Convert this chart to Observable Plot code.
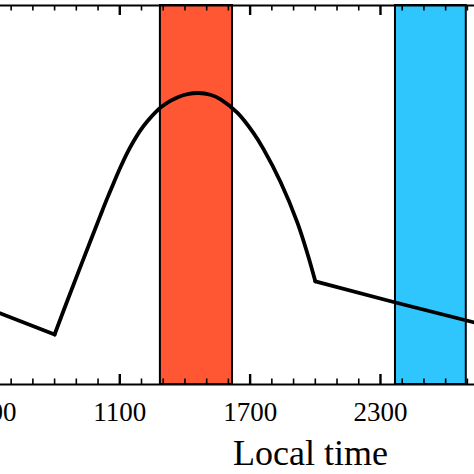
<!DOCTYPE html>
<html><head><meta charset="utf-8">
<script src="https://cdn.jsdelivr.net/npm/d3@7"></script>
<script src="https://cdn.jsdelivr.net/npm/@observablehq/plot@0.6"></script>
<style>
html,body{margin:0;padding:0;background:#fff;}
#wrap{position:relative;width:474px;height:474px;overflow:hidden;background:#fff;}
#wrap svg{position:absolute;left:-60px;top:0;max-width:none !important;width:594px;height:474px;}
</style></head><body><div id="wrap"></div>
<script>
// Local time (HHMM-like numeric axis) and curve values (arbitrary units, y axis not shown)
const times  = [400, 551, 800, 859, 933, 1011, 1043, 1071, 1103, 1135, 1163, 1195, 1228, 1264, 1297, 1333, 1370, 1412, 1462, 1517, 1564, 1642, 1715, 1761, 1840, 1918, 1964, 2000, 2369, 2733, 2800];
const values = [8.4, 7.1, 5.0, 8.4, 12.56, 16.91, 18.66, 20.11, 21.72, 23.19, 24.3, 25.42, 26.35, 27.22, 27.84, 28.36, 28.76, 29.04, 29.15, 28.97, 28.52, 27.16, 25.16, 23.56, 20.25, 16.17, 13.07, 10.32, 8.2, 6.2, 5.8];
const kinkTimes = [800, 2000];

const bandStart  = [1287, 2369];
const bandEnd    = [1619, 2695];
const bandColors = ["#ff5733", "#2ec6fd"];

const majorTicks = [500, 1100, 1700, 2300];
const majorLabels = ["0500", "1100", "1700", "2300"];
const xLabel = "Local time";

const minorTicks = d3.range(400, 2801, 100).filter(t => !majorTicks.includes(t));

const data = times.map((t, i) => ({t, v: values[i]}));
const bands = bandStart.map((s, i) => ({s, e: bandEnd[i], c: bandColors[i]}));

const W = 594, H = 474;
const mL = 27.2, mR = 45.4, mT = 5, mB = 90;
const fh = H - mT - mB;
const font = "'Liberation Serif', 'Times New Roman', serif";

const lineOpts = {x: "t", y: "v", stroke: "black", strokeWidth: 3.8, strokeLinecap: "round", strokeLinejoin: "round"};

const chart = Plot.plot({
  width: W, height: H,
  marginLeft: mL, marginRight: mR, marginTop: mT, marginBottom: mB,
  style: {fontFamily: font, background: "white", color: "black", maxWidth: "none"},
  x: {domain: [400, 2800]},
  y: {domain: [0, 37.9], axis: null},
  marks: [
    Plot.rect(bands, {x1: "s", x2: "e", fill: "c", stroke: "black", strokeWidth: 2}),
    Plot.line(data.filter(d => d.t <= kinkTimes[0]), lineOpts),
    Plot.line(data.filter(d => d.t >= kinkTimes[0] && d.t <= kinkTimes[1]), {...lineOpts, curve: "catmull-rom"}),
    Plot.line(data.filter(d => d.t >= kinkTimes[1]), lineOpts),
    // inward ticks, bottom and top
    Plot.ruleX(minorTicks, {stroke: "black", strokeWidth: 1.6, insetTop: fh - 5.5}),
    Plot.ruleX(minorTicks, {stroke: "black", strokeWidth: 1.6, insetBottom: fh - 5.5}),
    Plot.ruleX(majorTicks, {stroke: "black", strokeWidth: 2.4, insetTop: fh - 10}),
    Plot.ruleX(majorTicks, {stroke: "black", strokeWidth: 2.4, insetBottom: fh - 10}),
    Plot.frame({stroke: "black", strokeWidth: 2}),
    Plot.axisX({ticks: majorTicks, tickSize: 0, tickPadding: 17, fontSize: 27, fill: "black",
      tickFormat: d => majorLabels[majorTicks.indexOf(d)], label: null}),
    Plot.text([xLabel], {frameAnchor: "bottom", dx: 82, dy: 80, lineAnchor: "bottom",
      fontSize: 36, textAnchor: "middle", fill: "black"})
  ]
});
document.getElementById("wrap").appendChild(chart);
</script></body></html>
